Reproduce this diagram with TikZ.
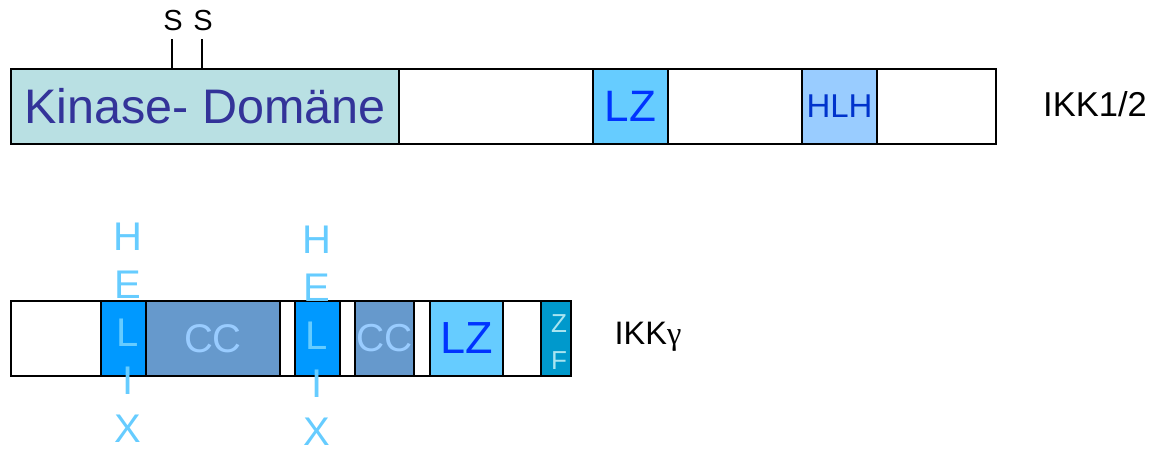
\documentclass[tikz,border=0pt]{standalone}
\usepackage{fontspec}
\setmainfont{Liberation Sans}
\newfontfamily\greekfont{Liberation Serif}
\definecolor{kinfill}{HTML}{B9E0E3}
\definecolor{kintext}{HTML}{333399}
\definecolor{helixfill}{HTML}{0099FF}
\definecolor{helixtext}{HTML}{66CCFF}
\definecolor{ccfill}{HTML}{6699CC}
\definecolor{cctext}{HTML}{99CCFF}
\definecolor{lzfill}{HTML}{66CCFF}
\definecolor{lztext}{HTML}{0033FF}
\definecolor{hlhfill}{HTML}{99CCFF}
\definecolor{hlhtext}{HTML}{0033CC}
\definecolor{zffill}{HTML}{0099CC}
\definecolor{zftext}{HTML}{A8E4F0}
\newcommand{\fs}[2]{\fontsize{#1}{#2}\selectfont}
\begin{document}
\begin{tikzpicture}[x=1pt,y=-1pt,
  seg/.style={draw=black, line width=1.5pt, inner sep=0pt, outer sep=0pt,
    anchor=north west, minimum height=75pt},
  lbl/.style={inner sep=0pt, outer sep=0pt},
  stack/.style={inner sep=0pt, outer sep=0pt, align=center, text=helixtext}
]
\useasboundingbox (0,0) rectangle (1154,450);
% ---- IKK1/2 ----
\node[seg, fill=white, minimum width=985pt] (bar1) at (11,69) {};
\node[seg, fill=kinfill, minimum width=388pt, text=kintext,
  font=\fs{48.5}{52}] (kin) at (11,69) {Kinase- Domäne};
\node[seg, fill=lzfill, minimum width=75pt, text=lztext,
  font=\fs{44}{48}] (lz1) at (593,69) {LZ};
\node[seg, fill=hlhfill, minimum width=75pt, text=hlhtext,
  font=\fs{33}{36}] (hlh) at (802,69) {HLH};
\coordinate (s1) at (172,39);
\coordinate (s2) at (202,39);
\draw[line width=1.3pt] (s1) -- (s1 |- kin.north);
\draw[line width=1.3pt] (s2) -- (s2 |- kin.north);
\node[lbl, font=\fs{29}{32}] (slab1) at (173,20.5) {S};
\node[lbl, font=\fs{29}{32}] (slab2) at (203,20.5) {S};
\node[lbl, font=\fs{34.5}{38}] (ikk12) at (1095,104) {IKK1/2};
% ---- IKKgamma ----
\node[seg, fill=white, minimum width=560pt] (bar2) at (11,301) {};
\node[seg, fill=helixfill, minimum width=45pt] (h1) at (101,301) {};
\node[seg, fill=ccfill, minimum width=134pt, text=cctext,
  font=\fs{40}{42}] (cc1) at (146,301) {CC};
\node[seg, fill=helixfill, minimum width=45pt] (h2) at (295,301) {};
\node[seg, fill=ccfill, minimum width=59pt, text=cctext,
  font=\fs{39}{42}] (cc2) at (355,301) {CC};
\node[seg, fill=lzfill, minimum width=73pt, text=lztext,
  font=\fs{45}{48}] (lz2) at (430,301) {LZ};
\node[seg, fill=zffill, minimum width=30pt, minimum height=75pt] (zf) at (541,301) {};
\node[lbl, align=center, text=zftext, font=\fs{26}{37}] (zft) at (559,342.5) {Z\\F};
\node[stack, font=\fs{40}{48}] (hx1) at (128,332.5) {H\\E\\L\\I\\X};
\node[stack, font=\fs{40}{48}] (hx2) at (317,336) {H\\E\\L\\I\\X};
\node[lbl, font=\fs{32.5}{36}] (ikkg) at (648,337) {IKK{\greekfont γ}};
\end{tikzpicture}
\end{document}
